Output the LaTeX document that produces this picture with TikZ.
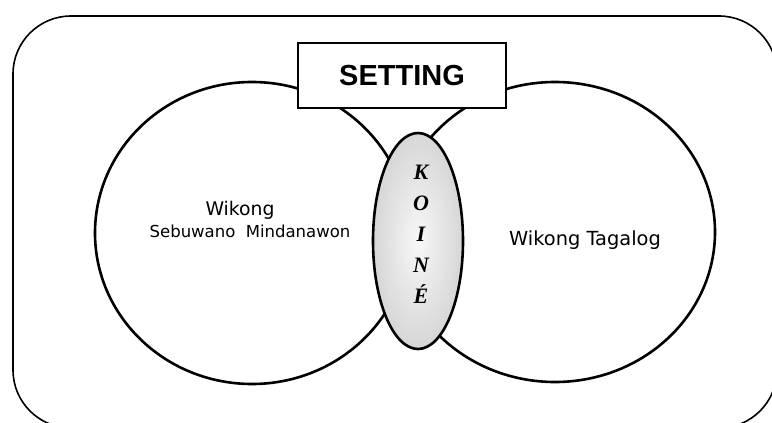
\documentclass[tikz,border=0pt]{standalone}
\usepackage{fontspec}
\setmainfont{Liberation Serif}
\newfontfamily\labelfont{DejaVu Sans}
\newfontfamily\headfont{Liberation Sans}
\usetikzlibrary{shapes.geometric}
\begin{document}
\begin{tikzpicture}[x=1pt,y=-1pt,
  venn/.style={ellipse, draw, line width=2.6pt, inner sep=0pt},
  lbl/.style={inner sep=0pt, text=black}
]
\useasboundingbox (0,0) rectangle (772,423);
\clip (0,0) rectangle (772,423);
\draw[line width=1.6pt, rounded corners=58pt] (13,16) rectangle (777,428);
\node[venn, minimum width=314pt, minimum height=302pt] (left) at (252,233) {};
\node[venn, minimum width=320pt, minimum height=300pt] (right) at (555,232) {};
\node[draw, line width=2.4pt, fill=white, minimum width=208pt, minimum height=65pt, inner sep=0pt,
  font=\headfont\bfseries\fontsize{29}{29}\selectfont] (setting) at (402,75.5) {SETTING};
\node[ellipse, draw, line width=2.6pt, shading=radial, inner color=gray!6, outer color=gray!32,
  minimum width=90pt, minimum height=216pt, inner sep=0pt] (koine) at (418,241) {};
\node[lbl, align=center, font=\bfseries\itshape\fontsize{22}{31}\selectfont] (koinetext) at (421,234) {K\\O\\I\\N\\É};
\node[lbl, font=\labelfont\fontsize{18.8}{22}\selectfont] (lt1) at (240,210) {Wikong};
\node[lbl, font=\labelfont\fontsize{16.5}{20}\selectfont] (lt2) at (250,231) {Sebuwano\ \ Mindanawon};
\node[lbl, font=\labelfont\fontsize{19.4}{22}\selectfont] (rt) at (585,240) {Wikong Tagalog};
\end{tikzpicture}
\end{document}
